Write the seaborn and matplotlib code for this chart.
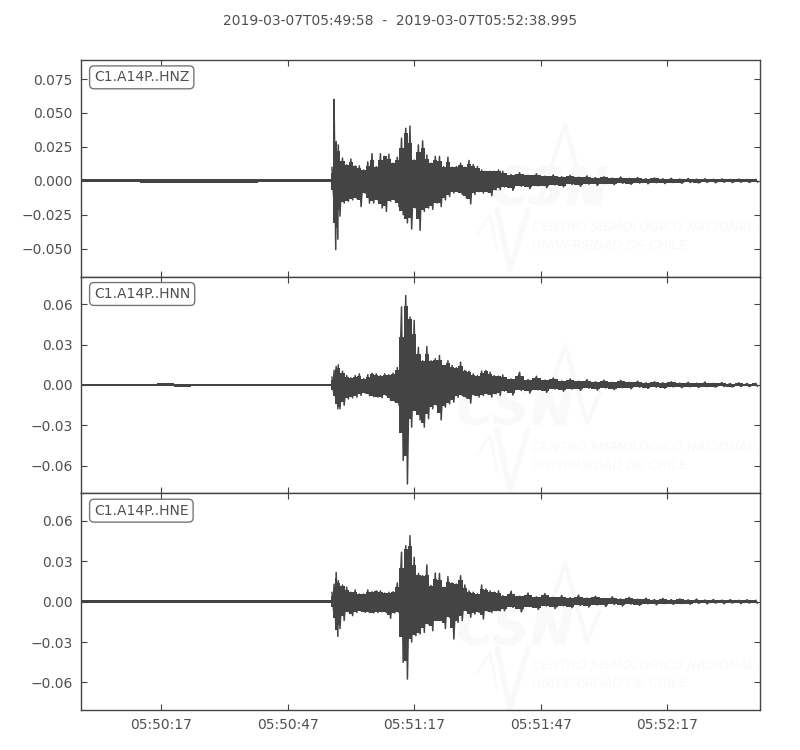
import matplotlib
matplotlib.use("Agg")
import matplotlib.pyplot as plt
import numpy as np
import pandas as pd
import seaborn as sns

time_pre = list(range(0, 60, 4)) + [59]
time_onset = [59.5, 60, 60.5]
time_main = list(range(61, 100))
time_tail = list(range(100, 162, 2))
times = np.array(time_pre + time_onset + time_main + time_tail, dtype=float)

# HNZ
z_upper = [.0011, .0011, .0011, .0012, .0014, .0013, .0014, .0013, .0014, .0013, .0014, .0012, .0013, .0011, .0011, .0011,
           .0100, .0600, .0290,
           .0265, .0167, .0118, .0160, .0110, .0110, .0080, .0140, .0200, .0105,
           .0200, .0180, .0196, .0130, .0174, .0314, .0387, .0404, .0154, .0265,
           .0294, .0190, .0130, .0180, .0180, .0105, .0174, .0100, .0105, .0130,
           .0100, .0150, .0120, .0105, .0080, .0070, .0070, .0070, .0080,
           .0070, .0045, .0060, .0040, .0052, .0034, .0044, .0030, .0040, .0026,
           .0036, .0024, .0030, .0020, .0028, .0018, .0024, .0016, .0021, .0015,
           .0019, .0013, .0017, .0012, .0015, .0011, .0014, .0010, .0013, .0010, .0011]
z_lower = [-.0011, -.0011, -.0011, -.0012, -.0014, -.0013, -.0014, -.0013, -.0014, -.0013, -.0014, -.0012, -.0013, -.0011, -.0011, -.0011,
           -.0120, -.0507, -.0430,
           -.0260, -.0164, -.0150, -.0140, -.0127, -.0190, -.0090, -.0164, -.0164, -.0140,
           -.0200, -.0225, -.0150, -.0140, -.0190, -.0250, -.0310, -.0355, -.0200, -.0365,
           -.0225, -.0200, -.0210, -.0164, -.0190, -.0140, -.0115, -.0090, -.0080, -.0100,
           -.0127, -.0170, -.0100, -.0080, -.0090, -.0080, -.0110, -.0066, -.0066,
           -.0045, -.0070, -.0040, -.0058, -.0036, -.0050, -.0030, -.0044, -.0026, -.0040,
           -.0024, -.0034, -.0020, -.0028, -.0018, -.0026, -.0016, -.0022, -.0014, -.0020,
           -.0013, -.0018, -.0012, -.0016, -.0011, -.0014, -.0010, -.0013, -.0010, -.0012, -.0010]

# HNN
n_upper = [.0009, .0009, .0010, .0010, .0011, .0012, .0011, .0011, .0012, .0010, .0010, .0010, .0009, .0009, .0009, .0009,
           .0060, .0108, .0137,
           .0150, .0103, .0070, .0053, .0070, .0083, .0046, .0076, .0088, .0083,
           .0070, .0083, .0076, .0088, .0130, .0580, .0665, .0505, .0480, .0280,
           .0180, .0286, .0180, .0195, .0220, .0145, .0180, .0145, .0128, .0170,
           .0108, .0103, .0083, .0070, .0103, .0108, .0095, .0070, .0066,
           .0075, .0045, .0095, .0040, .0065, .0036, .0052, .0030, .0045, .0028,
           .0040, .0024, .0036, .0020, .0034, .0020, .0028, .0016, .0024, .0016,
           .0024, .0014, .0020, .0013, .0022, .0012, .0018, .0011, .0016, .0011, .0012]
n_lower = [-.0009, -.0009, -.0010, -.0010, -.0011, -.0011, -.0012, -.0011, -.0011, -.0010, -.0010, -.0010, -.0009, -.0009, -.0009, -.0009,
           -.0060, -.0103, -.0177,
           -.0177, -.0150, -.0103, -.0095, -.0090, -.0078, -.0060, -.0078, -.0086, -.0090,
           -.0095, -.0078, -.0115, -.0120, -.0150, -.0560, -.0735, -.0313, -.0190, -.0260,
           -.0313, -.0250, -.0177, -.0150, -.0260, -.0165, -.0140, -.0128, -.0090, -.0078,
           -.0095, -.0135, -.0078, -.0090, -.0078, -.0066, -.0090, -.0066, -.0078,
           -.0045, -.0075, -.0040, -.0060, -.0036, -.0055, -.0030, -.0046, -.0030, -.0040,
           -.0024, -.0038, -.0022, -.0034, -.0020, -.0028, -.0016, -.0026, -.0016, -.0024,
           -.0014, -.0020, -.0013, -.0019, -.0012, -.0016, -.0011, -.0015, -.0011, -.0012, -.0010]

# HNE
e_upper = [.0010, .0011, .0011, .0012, .0011, .0011, .0010, .0011, .0010, .0010, .0010, .0010, .0009, .0009, .0010, .0010,
           .0070, .0130, .0218,
           .0156, .0124, .0107, .0070, .0087, .0057, .0057, .0087, .0074, .0080,
           .0080, .0064, .0070, .0074, .0139, .0367, .0416, .0490, .0330, .0210,
           .0193, .0273, .0120, .0213, .0210, .0107, .0186, .0139, .0131, .0193,
           .0124, .0080, .0070, .0057, .0124, .0094, .0080, .0070, .0080,
           .0045, .0078, .0040, .0064, .0036, .0060, .0032, .0046, .0030, .0048,
           .0026, .0040, .0024, .0036, .0020, .0032, .0018, .0026, .0016, .0024,
           .0015, .0020, .0014, .0019, .0012, .0016, .0011, .0015, .0010, .0014, .0010]
e_lower = [-.0010, -.0011, -.0011, -.0012, -.0011, -.0011, -.0011, -.0010, -.0010, -.0010, -.0010, -.0010, -.0009, -.0009, -.0010, -.0010,
           -.0070, -.0166, -.0258,
           -.0200, -.0140, -.0074, -.0104, -.0080, -.0067, -.0080, -.0080, -.0084, -.0080,
           -.0074, -.0080, -.0124, -.0084, -.0080, -.0450, -.0575, -.0300, -.0253, -.0240,
           -.0228, -.0166, -.0216, -.0140, -.0140, -.0200, -.0116, -.0278, -.0154, -.0140,
           -.0067, -.0116, -.0092, -.0080, -.0129, -.0067, -.0080, -.0067, -.0067,
           -.0068, -.0042, -.0076, -.0036, -.0058, -.0032, -.0052, -.0030, -.0044, -.0028,
           -.0040, -.0024, -.0036, -.0020, -.0032, -.0018, -.0028, -.0016, -.0024, -.0014,
           -.0020, -.0014, -.0019, -.0012, -.0016, -.0011, -.0015, -.0010, -.0014, -.0010, -.0012]

channels = ["C1.A14P..HNZ", "C1.A14P..HNN", "C1.A14P..HNE"]
uppers = [z_upper, n_upper, e_upper]
lowers = [z_lower, n_lower, e_lower]

y_limits = [(-0.0706, 0.089), (-0.0805, 0.0805), (-0.0805, 0.0805)]
y_ticks = [[-0.05, -0.025, 0, 0.025, 0.05, 0.075],
           [-0.06, -0.03, 0, 0.03, 0.06],
           [-0.06, -0.03, 0, 0.03, 0.06]]
y_formats = ["%.3f", "%.2f", "%.2f"]
x_ticks = [19, 49, 79, 109, 139]
x_labels = ["05:50:17", "05:50:47", "05:51:17", "05:51:47", "05:52:17"]

trace_color = "#444444"
text_color = "#505050"
mark_color = "#f9f9f9"

# panel tops and bottoms in pixels, used for the faint logo only
panel_px = [(60, 277), (277, 493), (493, 710)]
logo_shift = [0, 220, 438]
csn_x = [490, 455, 455]
csn_y = [205, 205, 207]

sns.set_style("white")
plt.rcParams["font.family"] = ["DejaVu Sans"]

fig, axes = plt.subplots(3, 1, figsize=(8, 7.5), dpi=100, sharex=True)
fig.subplots_adjust(left=81 / 800, right=760 / 800, top=1 - 60 / 750, bottom=1 - 710 / 750, hspace=0)


def to_axes(x, y, top, bottom):
    return (x - 81) / 679, (bottom - y) / (bottom - top)


for i, ax in enumerate(axes):
    top, bottom = panel_px[i]
    shift = logo_shift[i]

    # watermark
    a = to_axes(csn_x[i], csn_y[i] + shift, top, bottom)
    ax.text(a[0], a[1], "CSN", transform=ax.transAxes, color=mark_color, fontsize=38,
            fontstyle="italic", fontweight="bold", zorder=0)
    a = to_axes(532, 231 + shift, top, bottom)
    ax.text(a[0], a[1], "CENTRO SISMOLÓGICO NACIONAL", transform=ax.transAxes, color=mark_color,
            fontsize=9.4, fontstyle="italic", family=["Liberation Sans Narrow", "DejaVu Sans"], zorder=0)
    a = to_axes(532, 249 + shift, top, bottom)
    ax.text(a[0], a[1], "UNIVERSIDAD DE CHILE", transform=ax.transAxes, color=mark_color,
            fontsize=9.4, fontstyle="italic", family=["Liberation Sans Narrow", "DejaVu Sans"], zorder=0)
    for xs, ys, w in [([477, 490, 497], [235, 215, 250], 1.5),
                      ([497, 510, 528], [210, 270, 210], 4),
                      ([540, 565, 587, 600], [200, 125, 203, 173], 3)]:
        pts = [to_axes(x, y + shift, top, bottom) for x, y in zip(xs, ys)]
        ax.plot([p[0] for p in pts], [p[1] for p in pts], transform=ax.transAxes,
                color=mark_color, lw=w, zorder=0)

    # body of the trace: stepped, halfway between each peak and its lowest neighbour
    upper = pd.Series(uppers[i])
    lower = pd.Series(lowers[i])
    core_up = (upper + upper.rolling(3, center=True, min_periods=1).min()) / 2
    core_low = (lower + lower.rolling(3, center=True, min_periods=1).max()) / 2
    ax.fill_between(times, core_low, core_up, step="mid", color=trace_color, lw=0, zorder=2)

    # zigzag between the peaks, only once the shaking starts
    active = times >= 59.5
    trace = pd.DataFrame({
        "time": np.column_stack([times[active], times[active] + 0.4]).ravel(),
        "amp": np.column_stack([upper[active], lower[active]]).ravel(),
    })
    sns.lineplot(data=trace, x="time", y="amp", sort=False, estimator=None,
                 color=trace_color, lw=1.1, ax=ax, zorder=3)

    ax.set_xlim(0, 160.995)
    ax.set_ylim(*y_limits[i])
    ax.set_yticks(y_ticks[i])
    ax.set_yticklabels([(y_formats[i] % v).replace("-", "\u2212") for v in y_ticks[i]])
    ax.set_xticks(x_ticks)
    ax.set_xticklabels(x_labels)
    ax.set_xlabel("")
    ax.set_ylabel("")
    ax.tick_params(axis="both", direction="in", length=4, width=0.8, color=trace_color,
                   labelcolor=text_color, labelsize=10, top=True, right=True, bottom=True, left=True, pad=6)
    for spine in ax.spines.values():
        spine.set_color(trace_color)
        spine.set_linewidth(1.0)

    ax.text(0.0192, 0.92, channels[i], transform=ax.transAxes, color=text_color, fontsize=10,
            ha="left", va="center", zorder=5,
            bbox=dict(boxstyle="round,pad=0.32", fc="white", ec="#777777", lw=1.0))

for ax in axes[:-1]:
    ax.tick_params(axis="x", labelbottom=False)

fig.text(0.5, 1 - 21 / 750, "2019-03-07T05:49:58  -  2019-03-07T05:52:38.995", ha="center", va="center",
         color=text_color, fontsize=10)

plt.savefig("out.png", dpi=100)
